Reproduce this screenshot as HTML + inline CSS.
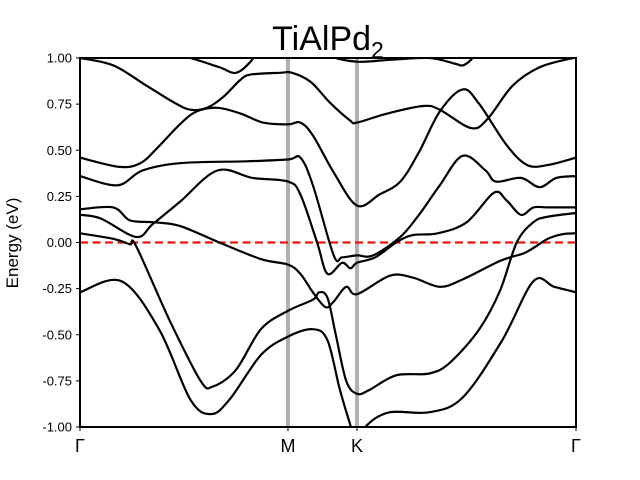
<!DOCTYPE html>
<html><head><meta charset="utf-8"><style>
html,body{margin:0;padding:0;background:#fff;}
svg{display:block;font-family:"Liberation Sans","DejaVu Sans",sans-serif;}
</style></head><body>
<svg id="chart" width="640" height="480" viewBox="0 0 640 480"></svg>
<script>
const kTickLabels = ["Γ","M","K","Γ"];
const kTickValues = [0, 1.0, 1.332, 2.385];
const eTickValues = [-1.0,-0.75,-0.5,-0.25,0,0.25,0.5,0.75,1.0];
const fermiLevel = 0;
const bandA = [[0,-0.27],[0.20,-0.21],[0.38,-0.47],[0.53,-0.85],[0.63,-0.93],[0.72,-0.85],[0.87,-0.61],[1.0,-0.51],[1.12,-0.47],[1.19,-0.53],[1.25,-0.80],[1.30,-0.99],[1.332,-1.10],[1.38,-0.99],[1.49,-0.92],[1.68,-0.92],[1.84,-0.84],[2.03,-0.53],[2.18,-0.21],[2.28,-0.24],[2.385,-0.27]];
const bandB = [[0,0.05],[0.16,0.02],[0.24,-0.01],[0.27,-0.02],[0.43,-0.42],[0.58,-0.75],[0.64,-0.78],[0.75,-0.69],[0.87,-0.47],[1.0,-0.37],[1.12,-0.31],[1.15,-0.27],[1.19,-0.30],[1.23,-0.50],[1.28,-0.75],[1.332,-0.82],[1.39,-0.80],[1.52,-0.72],[1.68,-0.71],[1.78,-0.65],[1.92,-0.47],[2.02,-0.26],[2.10,0.0],[2.18,0.11],[2.25,0.14],[2.385,0.16]];
const bandC = [[0,0.18],[0.16,0.19],[0.24,0.12],[0.35,0.11],[0.48,0.09],[0.67,0.0],[0.87,-0.09],[1.0,-0.12],[1.06,-0.17],[1.12,-0.27],[1.18,-0.35],[1.22,-0.32],[1.28,-0.24],[1.332,-0.28],[1.49,-0.18],[1.60,-0.19],[1.73,-0.24],[1.84,-0.20],[2.02,-0.10],[2.13,-0.06],[2.18,-0.03],[2.25,0.02],[2.32,0.045],[2.385,0.05]];
const bandD = [[0,0.15],[0.10,0.13],[0.27,0.03],[0.35,0.10],[0.48,0.22],[0.66,0.39],[0.83,0.35],[1.0,0.33],[1.06,0.26],[1.14,0.0],[1.19,-0.17],[1.26,-0.11],[1.30,-0.14],[1.332,-0.11],[1.42,-0.08],[1.52,0.0],[1.60,0.04],[1.72,0.05],[1.86,0.11],[1.99,0.27],[2.05,0.23],[2.12,0.15],[2.18,0.19],[2.25,0.19],[2.385,0.19]];
const bandE = [[0,0.36],[0.18,0.31],[0.30,0.39],[0.48,0.43],[0.80,0.44],[1.0,0.45],[1.06,0.46],[1.12,0.31],[1.22,-0.07],[1.26,-0.08],[1.332,-0.07],[1.41,-0.07],[1.54,0.03],[1.63,0.15],[1.73,0.31],[1.84,0.47],[1.95,0.39],[2.0,0.33],[2.12,0.35],[2.21,0.30],[2.29,0.35],[2.385,0.36]];
const bandF = [[0,0.46],[0.19,0.41],[0.29,0.43],[0.37,0.51],[0.48,0.64],[0.56,0.71],[0.66,0.73],[0.77,0.70],[0.88,0.65],[1.0,0.64],[1.06,0.65],[1.12,0.58],[1.22,0.38],[1.332,0.20],[1.44,0.26],[1.54,0.33],[1.63,0.49],[1.73,0.71],[1.84,0.83],[1.92,0.75],[2.05,0.53],[2.15,0.42],[2.25,0.42],[2.385,0.46]];
const bandG = [[0,1.0],[0.16,0.96],[0.32,0.85],[0.45,0.76],[0.53,0.72],[0.61,0.73],[0.69,0.79],[0.77,0.88],[0.82,0.91],[0.96,0.92],[1.02,0.92],[1.11,0.87],[1.20,0.76],[1.30,0.66],[1.332,0.65],[1.48,0.70],[1.65,0.74],[1.73,0.72],[1.88,0.62],[1.96,0.67],[2.08,0.85],[2.21,0.95],[2.37,1.0],[2.385,1.0]];
const bandH = [[0.34,1.05],[0.53,1.0],[0.67,0.95],[0.75,0.92],[0.82,0.98],[0.86,1.05]];
const bandI = [[1.15,1.05],[1.20,1.01],[1.332,0.98],[1.49,0.99],[1.68,1.0],[1.80,0.97],[1.84,0.96],[1.88,0.99],[1.92,1.05]];

const X0=80,X1=576,Y0=58,Y1=427,kMax=2.385,eMin=-1,eMax=1;
function xS(k){return X0+(k/kMax)*(X1-X0);}
function yS(e){return Y1-(e-eMin)/(eMax-eMin)*(Y1-Y0);}
const NS="http://www.w3.org/2000/svg";
const svg=document.getElementById('chart');
function mk(t,a,p){const e=document.createElementNS(NS,t);for(const k in a)e.setAttribute(k,a[k]);(p||svg).appendChild(e);return e;}

const defs=mk('defs',{});
const cp=mk('clipPath',{id:'plotclip'},defs);
mk('rect',{x:X0,y:Y0,width:X1-X0,height:Y1-Y0},cp);

const title=mk('text',{x:328,y:50,'text-anchor':'middle','font-size':'34'});


title.innerHTML='TiAlPd<tspan font-size="23" dy="8">2</tspan>';

const plot=mk('g',{'clip-path':'url(#plotclip)'});



for(let i=1;i<kTickValues.length-1;i++){
  const v=mk('line',{x1:xS(kTickValues[i]),x2:xS(kTickValues[i]),y1:Y0,y2:Y1,stroke:'#b0b0b0','stroke-width':4},plot);
  
  
}
const fl=mk('line',{x1:X0,x2:X1,y1:yS(fermiLevel),y2:yS(fermiLevel),stroke:'#e8160c','stroke-width':2.2,'stroke-dasharray':'8,4.5'},plot);



function pathFor(pts){
  const P=pts.map(p=>[xS(p[0]),yS(p[1])]);
  let d='M'+P[0][0].toFixed(1)+','+P[0][1].toFixed(1);
  for(let i=0;i<P.length-1;i++){
    const p0=P[i-1]||P[i],p1=P[i],p2=P[i+1],p3=P[i+2]||P[i+1];
    const c1=[p1[0]+(p2[0]-p0[0])/6,p1[1]+(p2[1]-p0[1])/6];
    const c2=[p2[0]-(p3[0]-p1[0])/6,p2[1]-(p3[1]-p1[1])/6];
    d+='C'+c1.map(v=>v.toFixed(1)).join(',')+' '+c2.map(v=>v.toFixed(1)).join(',')+' '+p2.map(v=>v.toFixed(1)).join(',');
  }
  return d;
}
const bands=[bandA,bandB,bandC,bandD,bandE,bandF,bandG,bandH,bandI];
bands.forEach((b,i)=>{
  const p=mk('path',{d:pathFor(b),fill:'none',stroke:'#000','stroke-width':2.2,'stroke-linejoin':'round'},plot);
  
  
});

const frame=mk('rect',{x:X0,y:Y0,width:X1-X0,height:Y1-Y0,fill:'none',stroke:'#000','stroke-width':2});



eTickValues.forEach(v=>{
  const y=yS(v);
  const t=mk('line',{x1:X0-4,x2:X0,y1:y,y2:y,stroke:'#000','stroke-width':1});
  
  
  const l=mk('text',{x:X0-8,y:y+4.5,'text-anchor':'end','font-size':'13'});
  
  
  l.textContent=v.toFixed(2);
});
kTickValues.forEach((v,i)=>{
  const x=xS(v);
  const t=mk('line',{x1:x,x2:x,y1:Y1,y2:Y1+4,stroke:'#000','stroke-width':1});
  
  
  const l=mk('text',{x:x,y:452,'text-anchor':'middle','font-size':'18'});
  
  
  l.textContent=kTickLabels[i];
});
const yl=mk('text',{x:18,y:243,'text-anchor':'middle','font-size':'17',transform:'rotate(-90 18 243)'});


yl.textContent='Energy (eV)';
</script>
</body></html>
